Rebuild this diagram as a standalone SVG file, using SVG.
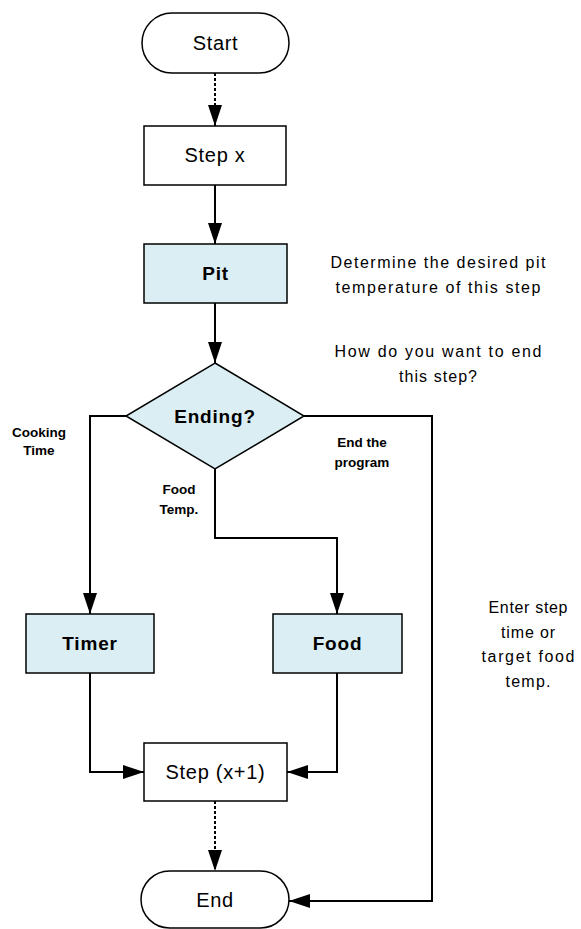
<svg xmlns="http://www.w3.org/2000/svg" width="581" height="929" viewBox="0 0 581 929">
<style>
  .node { fill: #ffffff; stroke: #000000; stroke-width: 1.5; }
  .proc { fill: #DAEEF3; stroke: #000000; stroke-width: 1.5; }
  .lbl { font-family: "Liberation Sans", Arial, sans-serif; font-size: 20px; letter-spacing: 0.7px; text-anchor: middle; fill: #000; }
  .blbl { font-family: "Liberation Sans", Arial, sans-serif; font-size: 19px; font-weight: bold; letter-spacing: 0.8px; text-anchor: middle; fill: #000; }
  .note { font-family: "Liberation Sans", Arial, sans-serif; font-size: 16px; text-anchor: middle; fill: #000; }
  .edge { font-family: "Liberation Sans", Arial, sans-serif; font-size: 13.5px; font-weight: bold; text-anchor: middle; fill: #000; }
  .conn { fill: none; stroke: #000; stroke-width: 2; marker-end: url(#arrow); }
  .dot { stroke-dasharray: 3 2; }
</style>
<defs>
  <marker id="arrow" markerUnits="userSpaceOnUse" markerWidth="21" markerHeight="14" refX="21" refY="7" orient="auto">
    <path d="M0,0 L21,7 L0,14 z" fill="#000"/>
  </marker>
</defs>
<rect width="581" height="929" fill="#ffffff"/>

<g id="connectors">
  <path class="conn dot" d="M215,73 V126"/>
  <path class="conn" d="M215,185 V244"/>
  <path class="conn" d="M215,303 V363"/>
  <path class="conn" d="M126,416 H90 V614"/>
  <path class="conn" d="M215,469 V538 H337 V614"/>
  <path class="conn" d="M304,416 H432 V901 H289"/>
  <path class="conn" d="M90,673 V772 H144"/>
  <path class="conn" d="M337,673 V772 H287"/>
  <path class="conn dot" d="M215,801 V871"/>
</g>

<g id="start">
  <rect class="node" x="142" y="13" width="147" height="60" rx="30" ry="30"/>
  <text class="lbl" x="215.5" y="50">Start</text>
</g>
<g id="stepx">
  <rect class="node" x="144" y="126" width="142" height="59"/>
  <text class="lbl" x="215" y="162">Step x</text>
</g>
<g id="pit">
  <rect class="proc" x="144" y="244" width="143" height="59"/>
  <text class="blbl" x="215.5" y="280">Pit</text>
</g>
<g id="ending">
  <polygon class="proc" points="215,363 304,416 215,469 126,416"/>
  <text class="blbl" x="215" y="423">Ending?</text>
</g>
<g id="timer">
  <rect class="proc" x="26" y="614" width="128" height="59"/>
  <text class="blbl" x="90" y="650">Timer</text>
</g>
<g id="food">
  <rect class="proc" x="273" y="614" width="129" height="59"/>
  <text class="blbl" x="337.5" y="650">Food</text>
</g>
<g id="stepx1">
  <rect class="node" x="144" y="743" width="143" height="58"/>
  <text class="lbl" x="215.5" y="779">Step (x+1)</text>
</g>
<g id="end">
  <rect class="node" x="141" y="871" width="148" height="57" rx="28.5" ry="28.5"/>
  <text class="lbl" x="215" y="907">End</text>
</g>

<g id="edge-labels">
  <text class="edge" x="39" y="437">Cooking</text>
  <text class="edge" x="39" y="455">Time</text>
  <text class="edge" x="179" y="494">Food</text>
  <text class="edge" x="179" y="514">Temp.</text>
  <text class="edge" x="362" y="447">End the</text>
  <text class="edge" x="362" y="467">program</text>
</g>

<g id="notes">
  <text class="note" x="438" y="268" textLength="215" lengthAdjust="spacing">Determine the desired pit</text>
  <text class="note" x="438" y="293" textLength="205" lengthAdjust="spacing">temperature of this step</text>
  <text class="note" x="438" y="357" textLength="207" lengthAdjust="spacing">How do you want to end</text>
  <text class="note" x="438" y="382" textLength="78" lengthAdjust="spacing">this step?</text>
  <text class="note" x="528" y="613" textLength="79" lengthAdjust="spacing">Enter step</text>
  <text class="note" x="528" y="638" textLength="54" lengthAdjust="spacing">time or</text>
  <text class="note" x="528" y="662" textLength="93" lengthAdjust="spacing">target food</text>
  <text class="note" x="528" y="687" textLength="45" lengthAdjust="spacing">temp.</text>
</g>
</svg>
